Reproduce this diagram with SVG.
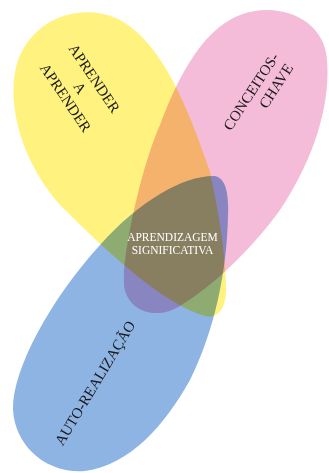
<svg xmlns="http://www.w3.org/2000/svg" width="329" height="473" viewBox="0 0 329 473">
  <style>
    .blob { mix-blend-mode: multiply; }
    .lbl { font-family: "Liberation Serif", "Times New Roman", serif; font-size: 15px; fill: #1a1a1a; text-anchor: middle; }
    .ctr { font-family: "Liberation Serif", "Times New Roman", serif; font-size: 11.5px; fill: #ffffff; text-anchor: middle; }
  </style>
  <rect width="329" height="473" fill="#ffffff"/>
  <g id="aprender" class="blob">
    <path fill="#FFF27F" d="M226,285 C224,240 216,200 210,172 C190,115 165,45 120,20 C85,2 35,15 18,60 C5,100 20,160 60,205 C110,255 165,305 205,316 C218,319 227,308 226,285 Z"/>
    <g transform="translate(80,88) rotate(56)">
      <text class="lbl" x="0" y="-12.3">APRENDER</text>
      <text class="lbl" x="0" y="5">A</text>
      <text class="lbl" x="0" y="22.3">APRENDER</text>
    </g>
  </g>
  <g id="conceitos" class="blob">
    <path fill="#F4BCD8" d="M124,280 C123,255 140,170 160,125 C175,85 200,30 240,15 C280,0 325,20 327,60 C331,110 310,165 280,210 C255,245 215,285 180,306 C150,324 122,305 124,280 Z"/>
    <text class="lbl" transform="translate(251,91.5) rotate(-57)" x="0" y="5">CONCEITOS-</text>
    <text class="lbl" transform="translate(276,86) rotate(-57)" x="0" y="5">CHAVE</text>
  </g>
  <g id="autorealizacao" class="blob">
    <path fill="#8EB4E3" d="M215,176 C226,178 229,195 228,215 C227,270 215,330 190,380 C165,425 130,465 85,471 C45,474 15,445 13,410 C12,370 50,300 100,245 C140,200 185,175 215,176 Z"/>
    <text class="lbl" transform="translate(95,383) rotate(-59)" x="0" y="5">AUTO-REALIZAÇÃO</text>
  </g>
  <g id="aprendizagem">
    <text class="ctr" x="172.5" y="240.5">APRENDIZAGEM</text>
    <text class="ctr" x="172.5" y="254">SIGNIFICATIVA</text>
  </g>
  <g id="connectors"/>
</svg>
